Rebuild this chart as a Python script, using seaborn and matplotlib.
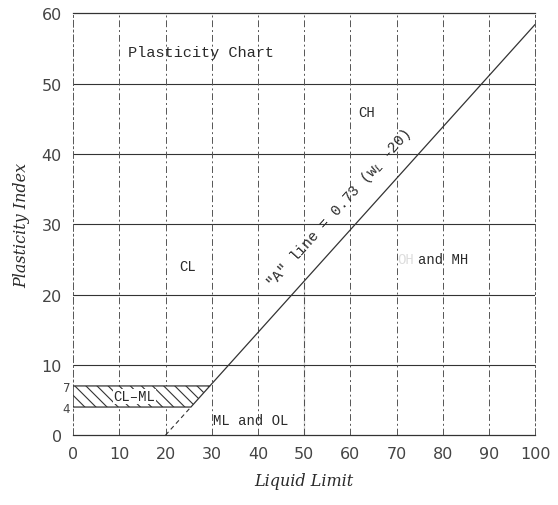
import numpy as np
import matplotlib
matplotlib.use('Agg')
import matplotlib.pyplot as plt
import seaborn as sns

sns.set_style("white")
plt.rcParams['font.family'] = ['DejaVu Sans']
plt.rcParams['hatch.linewidth'] = 0.8

# 数据: A-line 与分区边界 (液限 LL, 塑性指数 PI)
a_line_ll = [29.6, 100]
a_line_pi = [7, 58.4]
a_dash_ll = [20, 25.5]
a_dash_pi = [0, 4]
ll50_ll = [50, 50]
ll50_pi = [0, 21.9]
clml_ll = [0, 25.5, 29.6, 0]
clml_pi = [4, 4, 7, 7]

x_ticks = [0, 10, 20, 30, 40, 50, 60, 70, 80, 90, 100]
y_ticks = [0, 4, 7, 10, 20, 30, 40, 50, 60]
h_grid = [10, 20, 30, 40, 50]
v_grid = [10, 20, 30, 40, 50, 60, 70, 80, 90]

labels = {
    'Plasticity Chart': (27.7, 54.5),
    'CH': (63.5, 46),
    'CL': (24.7, 24),
    'ML and OL': (38.5, 2.2),
}

line_col = '#333333'
txt_col = '#2a2a2a'
mono = 'Liberation Mono'

fig = plt.figure(figsize=(5.58, 5.06), dpi=100)
ax = fig.add_axes([0.131, 0.138, 0.828, 0.834])

# 网格
for y in h_grid:
    ax.axhline(y, color=line_col, lw=0.8, zorder=1)
for x in v_grid:
    ax.axvline(x, color='#555555', lw=0.7, ls=(0, (7, 3, 2, 3)), zorder=1)

# CL-ML 阴影区
ax.fill(clml_ll, clml_pi, facecolor='white', edgecolor=line_col, hatch='\\\\\\',
        lw=0.9, zorder=3)

# A-line
sns.lineplot(x=a_line_ll, y=a_line_pi, color=line_col, lw=0.9, ax=ax, sort=False, zorder=4)
sns.lineplot(x=a_dash_ll, y=a_dash_pi, color=line_col, lw=0.8, ls=(0, (4, 3)), ax=ax,
             sort=False, zorder=4)
sns.lineplot(x=ll50_ll, y=ll50_pi, color=line_col, lw=0.9, ax=ax, sort=False, zorder=4)

# 文字标注
for s, (x, y) in labels.items():
    fs = 11 if s == 'Plasticity Chart' else 10
    ax.text(x, y, s, ha='center', va='center', fontsize=fs, family=mono, color=txt_col,
            zorder=5)
ax.text(13.3, 5.5, 'CL\u2013ML', ha='center', va='center', fontsize=10, family=mono,
        color=txt_col, zorder=6,
        bbox=dict(facecolor='white', edgecolor='none', pad=0.5))
ax.text(72, 25, 'OH', ha='center', va='center', fontsize=10, family=mono, color='#dddddd',
        zorder=5)
ax.text(80, 25, 'and MH', ha='center', va='center', fontsize=10, family=mono,
        color=txt_col, zorder=5)
ax.text(57.5, 32.3, '"A" line = 0.73 (w$_L$ -20)', ha='center', va='center',
        fontsize=10.5, family=mono, color=txt_col, rotation=48, rotation_mode='anchor',
        zorder=5)

ax.set_xlim(0, 100)
ax.set_ylim(0, 60)
ax.set_xticks(x_ticks)
ax.set_yticks(y_ticks)
ax.set_xticklabels([str(v) for v in x_ticks], fontsize=11.5, color='#444444')
ax.set_yticklabels([str(v) for v in y_ticks], fontsize=11.5, color='#444444')
ax.tick_params(length=0, pad=8)
for t in ax.yaxis.get_major_ticks():
    if t.get_loc() in (4, 7):
        t.set_pad(2)
        t.label1.set_fontsize(8.5)

for side in ['top', 'bottom']:
    ax.spines[side].set_color(line_col)
    ax.spines[side].set_linewidth(0.9)
for side in ['left', 'right']:
    ax.spines[side].set_color('#555555')
    ax.spines[side].set_linewidth(0.7)
    ax.spines[side].set_linestyle((0, (7, 3, 2, 3)))

ax.set_xlabel('Liquid Limit', fontsize=11.5, family='DejaVu Serif', style='italic',
              color=txt_col, labelpad=8)
ax.set_ylabel('Plasticity Index', fontsize=11.5, family='DejaVu Serif', style='italic',
              color=txt_col, labelpad=8)

fig.savefig('out.png', dpi=100)
